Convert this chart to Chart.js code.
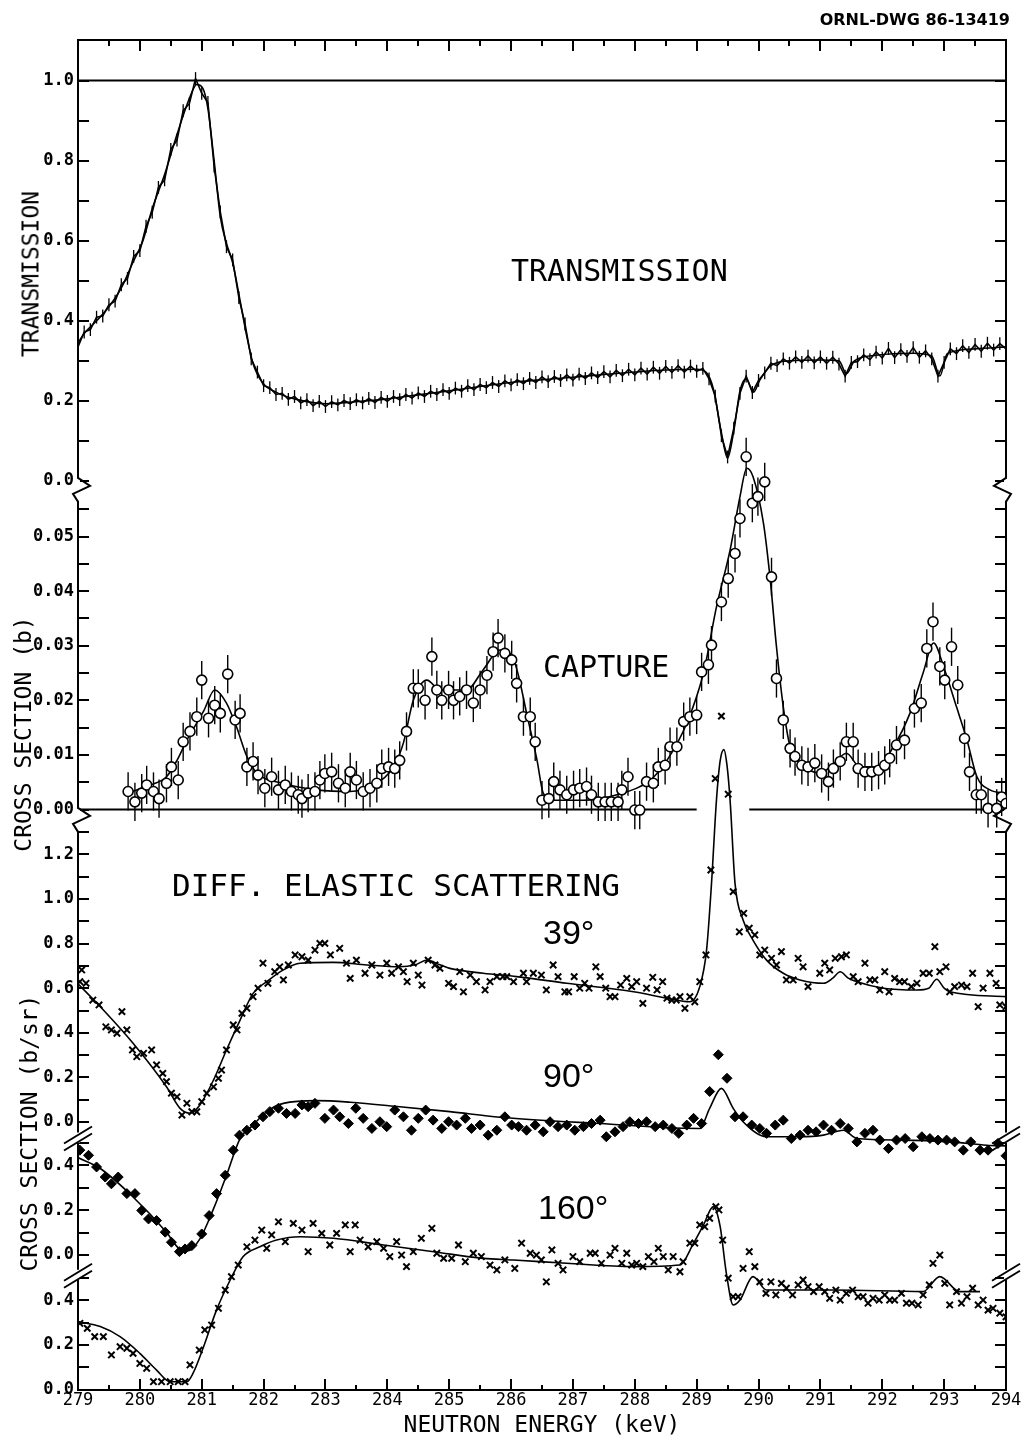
<!DOCTYPE html>
<html><head><meta charset="utf-8">
<script src="https://cdn.jsdelivr.net/npm/chart.js@4.4.1/dist/chart.umd.min.js"></script>
<style>
html,body{margin:0;padding:0;background:#fff;}
#wrap{position:relative;width:1022px;height:1438px;overflow:hidden;background:#fff;}
#c{position:absolute;left:0;top:0;}
.t{position:absolute;white-space:nowrap;line-height:1;color:#000;}
.plot{font-family:'DejaVu Sans Mono',monospace;transform:translateY(-50%);}
.deg{font-family:'Liberation Sans',Arial,sans-serif;font-size:34px;transform:translateY(-50%);}
.rot{font-family:'DejaVu Sans Mono',monospace;font-size:23px;transform:translate(-50%,-50%) rotate(-90deg);}
</style></head><body>
<div id="wrap">
<canvas id="c" width="1022" height="1438"></canvas>
<div class="t" style="right:12px;top:20px;transform:translateY(-50%);font-family:'DejaVu Sans',sans-serif;font-weight:bold;font-size:16px;">ORNL-DWG 86-13419</div>
<div class="t plot" style="left:511px;top:271px;font-size:30px;">TRANSMISSION</div>
<div class="t plot" style="left:543px;top:667px;font-size:30px;">CAPTURE</div>
<div class="t plot" style="left:172px;top:885px;font-size:31px;">DIFF. ELASTIC SCATTERING</div>
<div class="t deg" style="left:543px;top:932px;">39°</div>
<div class="t deg" style="left:543px;top:1075px;">90°</div>
<div class="t deg" style="left:538px;top:1207px;">160°</div>
<div class="t rot" style="left:31px;top:274px;">TRANSMISSION</div>
<div class="t rot" style="left:23px;top:734px;">CROSS SECTION (b)</div>
<div class="t rot" style="left:29px;top:1133px;">CROSS SECTION (b/sr)</div>
</div>
<script>
// ---------------- DATA ----------------
const xTickValues = [279,280,281,282,283,284,285,286,287,288,289,290,291,292,293,294];
const xTickLabels = ['279','280','281','282','283','284','285','286','287','288','289','290','291','292','293','294'];
const xMinorTickValues = [279.5,280.5,281.5,282.5,283.5,284.5,285.5,286.5,287.5,288.5,289.5,290.5,291.5,292.5,293.5];

const transTickValues = [0,0.1,0.2,0.3,0.4,0.5,0.6,0.7,0.8,0.9,1.0];
const transTickLabels = ['0.0','','0.2','','0.4','','0.6','','0.8','','1.0'];
const captureTickValues = [0,0.005,0.01,0.015,0.02,0.025,0.03,0.035,0.04,0.045,0.05,0.055];
const captureTickLabels = ['0.00','','0.01','','0.02','','0.03','','0.04','','0.05',''];
const des39TickValues = [0,0.1,0.2,0.3,0.4,0.5,0.6,0.7,0.8,0.9,1.0,1.1,1.2,1.3];
const des39TickLabels = ['0.0','','0.2','','0.4','','0.6','','0.8','','1.0','','1.2',''];
const des90TickValues = [0,0.1,0.2,0.3,0.4,0.5];
const des90TickLabels = ['0.0','','0.2','','0.4',''];
const des160TickValues = [0,0.1,0.2,0.3,0.4,0.5];
const des160TickLabels = ['0.0','','0.2','','0.4',''];

// Transmission: fitted curve
const transFit = [[279.0,0.345],[279.1,0.368],[279.3,0.400],[279.5,0.435],[279.7,0.482],[279.9,0.550],[280.05,0.600],[280.2,0.680],[280.4,0.765],[280.6,0.865],[280.8,0.955],[280.92,0.990],[281.02,0.980],[281.1,0.930],[281.2,0.800],[281.3,0.660],[281.4,0.593],[281.5,0.545],[281.62,0.450],[281.73,0.360],[281.83,0.293],[281.99,0.244],[282.2,0.222],[282.5,0.205],[283.0,0.193],[283.5,0.198],[284.0,0.205],[284.5,0.215],[285.0,0.225],[285.5,0.236],[286.0,0.246],[286.5,0.253],[287.0,0.259],[287.5,0.266],[288.0,0.272],[288.5,0.277],[289.0,0.279],[289.15,0.272],[289.27,0.230],[289.4,0.120],[289.5,0.057],[289.6,0.125],[289.7,0.225],[289.8,0.255],[289.92,0.222],[290.02,0.252],[290.2,0.288],[290.5,0.300],[291.0,0.302],[291.3,0.300],[291.42,0.268],[291.55,0.300],[291.9,0.314],[292.5,0.319],[292.8,0.312],[292.93,0.262],[293.05,0.318],[293.5,0.330],[294.0,0.335]];
// Transmission: measured points
const transMeasured = [[279.0,0.335],[279.1,0.372],[279.2,0.378],[279.3,0.409],[279.4,0.412],[279.5,0.440],[279.6,0.449],[279.7,0.490],[279.8,0.506],[279.9,0.561],[280.0,0.575],[280.1,0.636],[280.2,0.671],[280.3,0.733],[280.4,0.752],[280.5,0.828],[280.6,0.851],[280.7,0.925],[280.8,0.942],[280.9,1.005],[281.0,0.968],[281.1,0.945],[281.2,0.786],[281.3,0.672],[281.4,0.585],[281.5,0.552],[281.6,0.458],[281.7,0.392],[281.8,0.305],[281.9,0.272],[282.0,0.238],[282.1,0.233],[282.2,0.216],[282.3,0.219],[282.4,0.204],[282.5,0.211],[282.6,0.195],[282.7,0.203],[282.8,0.188],[282.9,0.199],[283.0,0.186],[283.1,0.198],[283.2,0.190],[283.3,0.201],[283.4,0.193],[283.5,0.203],[283.6,0.195],[283.7,0.206],[283.8,0.196],[283.9,0.209],[284.0,0.199],[284.1,0.211],[284.2,0.203],[284.3,0.216],[284.4,0.207],[284.5,0.220],[284.6,0.211],[284.7,0.224],[284.8,0.216],[284.9,0.228],[285.0,0.219],[285.1,0.232],[285.2,0.224],[285.3,0.238],[285.4,0.228],[285.5,0.241],[285.6,0.233],[285.7,0.246],[285.8,0.236],[285.9,0.250],[286.0,0.240],[286.1,0.253],[286.2,0.243],[286.3,0.256],[286.4,0.246],[286.5,0.260],[286.6,0.248],[286.7,0.261],[286.8,0.251],[286.9,0.265],[287.0,0.252],[287.1,0.267],[287.2,0.256],[287.3,0.270],[287.4,0.258],[287.5,0.273],[287.6,0.260],[287.7,0.276],[287.8,0.263],[287.9,0.279],[288.0,0.265],[288.1,0.282],[288.2,0.267],[288.3,0.284],[288.4,0.269],[288.5,0.286],[288.6,0.271],[288.7,0.288],[288.8,0.272],[288.9,0.287],[289.0,0.274],[289.1,0.281],[289.2,0.255],[289.3,0.212],[289.4,0.113],[289.5,0.060],[289.6,0.132],[289.7,0.219],[289.8,0.262],[289.9,0.221],[290.0,0.251],[290.1,0.270],[290.2,0.294],[290.3,0.288],[290.4,0.305],[290.5,0.294],[290.6,0.310],[290.7,0.296],[290.8,0.312],[290.9,0.295],[291.0,0.310],[291.1,0.294],[291.2,0.309],[291.3,0.292],[291.4,0.262],[291.5,0.296],[291.6,0.298],[291.7,0.315],[291.8,0.303],[291.9,0.322],[292.0,0.307],[292.1,0.331],[292.2,0.308],[292.3,0.328],[292.4,0.311],[292.5,0.333],[292.6,0.309],[292.7,0.325],[292.8,0.305],[292.9,0.262],[293.0,0.296],[293.1,0.330],[293.2,0.318],[293.3,0.338],[293.4,0.321],[293.5,0.341],[293.6,0.324],[293.7,0.344],[293.8,0.327],[293.9,0.343],[294.0,0.330]];
const transUnity = [[279,1.0],[294,1.0]];
const transError = 0.016;

// Capture cross section (b)
const captureFit = [[279.81,0.0030],[280.0,0.0038],[280.2,0.0046],[280.43,0.0060],[280.6,0.0090],[280.76,0.0127],[281.03,0.0180],[281.21,0.0219],[281.4,0.0195],[281.56,0.0152],[281.73,0.0097],[281.89,0.0067],[282.31,0.0048],[282.86,0.0036],[283.4,0.0033],[283.77,0.0045],[284.1,0.0078],[284.26,0.0122],[284.42,0.0200],[284.64,0.0237],[284.85,0.0219],[285.28,0.0219],[285.55,0.0256],[285.82,0.0292],[286.03,0.0278],[286.12,0.0245],[286.25,0.0177],[286.42,0.0090],[286.52,0.0030],[286.68,0.0017],[287.17,0.0017],[287.71,0.0027],[288.25,0.0054],[288.52,0.0090],[288.84,0.0158],[289.11,0.0250],[289.32,0.0371],[289.54,0.0475],[289.70,0.0573],[289.81,0.0625],[289.91,0.0610],[290.08,0.0524],[290.19,0.0420],[290.29,0.0298],[290.40,0.0188],[290.51,0.0115],[290.67,0.0085],[291.0,0.0067],[291.2,0.0082],[291.42,0.0103],[291.64,0.0078],[291.91,0.0078],[292.18,0.0115],[292.45,0.0177],[292.66,0.0250],[292.83,0.0305],[292.99,0.0262],[293.2,0.0188],[293.37,0.0127],[293.53,0.0060],[293.74,0.0036],[294.0,0.0030]];
const captureMeasured = [[279.81,0.0033],[279.92,0.0014],[280.03,0.0030],[280.11,0.0045],[280.22,0.0033],[280.31,0.0020],[280.43,0.0048],[280.51,0.0078],[280.62,0.0054],[280.70,0.0124],[280.81,0.0143],[280.92,0.0170],[281.00,0.0237],[281.11,0.0167],[281.21,0.0191],[281.30,0.0176],[281.42,0.0248],[281.54,0.0164],[281.62,0.0176],[281.73,0.0078],[281.83,0.0088],[281.91,0.0063],[282.02,0.0039],[282.13,0.0060],[282.24,0.0036],[282.35,0.0045],[282.45,0.0033],[282.56,0.0027],[282.62,0.0020],[282.72,0.0030],[282.83,0.0033],[282.91,0.0054],[282.99,0.0066],[283.10,0.0069],[283.21,0.0048],[283.32,0.0039],[283.40,0.0069],[283.50,0.0054],[283.61,0.0033],[283.72,0.0039],[283.83,0.0048],[283.91,0.0075],[284.02,0.0078],[284.12,0.0075],[284.20,0.0090],[284.31,0.0143],[284.42,0.0222],[284.50,0.0222],[284.61,0.0200],[284.72,0.0280],[284.80,0.0219],[284.88,0.0200],[284.99,0.0219],[285.07,0.0200],[285.17,0.0207],[285.28,0.0219],[285.39,0.0195],[285.50,0.0219],[285.61,0.0246],[285.71,0.0289],[285.79,0.0314],[285.90,0.0286],[286.01,0.0274],[286.09,0.0231],[286.20,0.0170],[286.31,0.0170],[286.39,0.0124],[286.50,0.0017],[286.61,0.0020],[286.69,0.0051],[286.79,0.0036],[286.90,0.0027],[287.01,0.0036],[287.11,0.0039],[287.22,0.0042],[287.30,0.0027],[287.41,0.0014],[287.52,0.0014],[287.62,0.0014],[287.73,0.0014],[287.79,0.0036],[287.89,0.0060],[288.00,-0.0001],[288.08,-0.0001],[288.19,0.0051],[288.30,0.0048],[288.38,0.0078],[288.49,0.0081],[288.57,0.0115],[288.68,0.0115],[288.79,0.0161],[288.89,0.0170],[289.00,0.0173],[289.08,0.0252],[289.19,0.0265],[289.24,0.0301],[289.40,0.0380],[289.51,0.0423],[289.62,0.0469],[289.70,0.0533],[289.80,0.0646],[289.90,0.0561],[289.99,0.0573],[290.10,0.0600],[290.21,0.0426],[290.29,0.0240],[290.40,0.0164],[290.51,0.0112],[290.59,0.0097],[290.70,0.0081],[290.80,0.0078],[290.91,0.0085],[291.02,0.0066],[291.13,0.0051],[291.21,0.0075],[291.32,0.0088],[291.42,0.0124],[291.53,0.0124],[291.61,0.0075],[291.72,0.0069],[291.83,0.0069],[291.94,0.0072],[292.04,0.0081],[292.12,0.0094],[292.23,0.0118],[292.36,0.0127],[292.52,0.0185],[292.63,0.0195],[292.72,0.0295],[292.82,0.0344],[292.93,0.0262],[293.01,0.0237],[293.12,0.0298],[293.22,0.0228],[293.33,0.0130],[293.41,0.0069],[293.52,0.0027],[293.60,0.0027],[293.71,0.0002],[293.85,0.0002],[293.93,0.0023],[294.00,0.0011]];
const captureBaseline = [[279,0],[289.0,0],[289.4,null],[289.85,0],[294,0]];
const captureError = 0.0035;

// Differential elastic scattering, 39 deg (b/sr)
const des39Fit = [[279.0,0.620],[279.36,0.517],[279.89,0.353],[280.43,0.158],[280.65,0.061],[280.81,0.039],[280.97,0.076],[281.19,0.188],[281.4,0.323],[281.62,0.457],[281.83,0.577],[282.05,0.629],[282.32,0.682],[282.59,0.712],[283.13,0.716],[283.67,0.704],[284.2,0.696],[284.45,0.705],[284.64,0.726],[284.85,0.705],[285.01,0.689],[285.55,0.667],[286.09,0.652],[286.9,0.622],[287.98,0.584],[288.52,0.555],[288.89,0.539],[289.05,0.607],[289.16,0.771],[289.24,1.070],[289.32,1.444],[289.38,1.620],[289.44,1.670],[289.49,1.600],[289.54,1.444],[289.62,1.070],[289.75,0.906],[289.91,0.816],[290.13,0.726],[290.40,0.667],[290.67,0.637],[291.05,0.622],[291.2,0.645],[291.32,0.674],[291.45,0.645],[291.59,0.629],[292.02,0.600],[292.56,0.592],[292.75,0.600],[292.88,0.640],[293.0,0.600],[293.09,0.584],[294.0,0.562]];
const des39Measured = [[279.03,0.629],[279.06,0.682],[279.13,0.622],[279.24,0.547],[279.34,0.525],[279.45,0.427],[279.54,0.413],[279.63,0.398],[279.71,0.495],[279.79,0.413],[279.88,0.323],[279.95,0.293],[280.06,0.308],[280.19,0.323],[280.27,0.256],[280.37,0.218],[280.43,0.181],[280.51,0.129],[280.60,0.113],[280.68,0.031],[280.76,0.084],[280.84,0.046],[280.92,0.046],[281.00,0.091],[281.08,0.129],[281.19,0.158],[281.27,0.196],[281.32,0.233],[281.40,0.323],[281.51,0.435],[281.57,0.413],[281.65,0.487],[281.73,0.510],[281.83,0.562],[281.91,0.600],[281.99,0.712],[282.07,0.622],[282.18,0.674],[282.26,0.696],[282.32,0.637],[282.40,0.704],[282.51,0.749],[282.62,0.741],[282.72,0.726],[282.83,0.771],[282.91,0.801],[282.99,0.801],[283.08,0.749],[283.23,0.779],[283.34,0.712],[283.40,0.644],[283.50,0.726],[283.64,0.667],[283.75,0.704],[283.88,0.659],[283.99,0.712],[284.07,0.667],[284.18,0.696],[284.26,0.674],[284.32,0.629],[284.42,0.712],[284.50,0.659],[284.56,0.614],[284.66,0.726],[284.77,0.704],[284.85,0.689],[284.99,0.622],[285.07,0.607],[285.17,0.674],[285.23,0.584],[285.34,0.659],[285.44,0.629],[285.58,0.592],[285.66,0.629],[285.77,0.652],[285.87,0.652],[285.93,0.652],[286.04,0.629],[286.20,0.667],[286.25,0.629],[286.36,0.667],[286.49,0.659],[286.57,0.592],[286.68,0.704],[286.76,0.652],[286.87,0.584],[286.93,0.584],[287.02,0.652],[287.11,0.600],[287.19,0.622],[287.26,0.600],[287.37,0.696],[287.44,0.652],[287.53,0.600],[287.60,0.562],[287.68,0.562],[287.77,0.614],[287.87,0.644],[287.95,0.607],[288.03,0.629],[288.13,0.532],[288.19,0.600],[288.29,0.649],[288.36,0.592],[288.45,0.629],[288.52,0.555],[288.60,0.547],[288.67,0.547],[288.73,0.562],[288.81,0.510],[288.89,0.562],[288.97,0.539],[289.05,0.629],[289.15,0.749],[289.23,1.130],[289.30,1.540],[289.40,1.820],[289.51,1.470],[289.59,1.033],[289.69,0.853],[289.76,0.936],[289.85,0.869],[289.94,0.839],[290.02,0.749],[290.10,0.771],[290.21,0.734],[290.29,0.704],[290.37,0.764],[290.45,0.637],[290.56,0.637],[290.64,0.734],[290.72,0.696],[290.80,0.607],[290.99,0.667],[291.07,0.712],[291.15,0.682],[291.24,0.734],[291.34,0.741],[291.42,0.749],[291.53,0.652],[291.61,0.629],[291.72,0.712],[291.80,0.637],[291.88,0.637],[291.96,0.592],[292.04,0.674],[292.11,0.584],[292.20,0.644],[292.28,0.629],[292.36,0.629],[292.47,0.607],[292.56,0.622],[292.66,0.667],[292.76,0.667],[292.85,0.786],[292.93,0.674],[293.03,0.696],[293.09,0.584],[293.17,0.607],[293.28,0.614],[293.37,0.607],[293.46,0.667],[293.55,0.517],[293.63,0.600],[293.74,0.667],[293.84,0.622],[293.90,0.525],[294.00,0.517]];

// 90 deg
const des90Fit = [[279.0,0.435],[279.36,0.386],[279.89,0.259],[280.43,0.102],[280.65,0.025],[280.78,0.019],[280.97,0.072],[281.19,0.206],[281.40,0.356],[281.62,0.520],[281.83,0.580],[282.05,0.640],[282.32,0.677],[282.86,0.689],[283.40,0.682],[284.20,0.662],[285.01,0.640],[285.82,0.615],[286.9,0.595],[287.44,0.587],[288.52,0.568],[289.05,0.565],[289.21,0.655],[289.40,0.744],[289.59,0.655],[289.75,0.595],[290.13,0.528],[290.67,0.528],[291.05,0.535],[291.37,0.557],[291.59,0.520],[292.29,0.513],[293.09,0.505],[293.69,0.490],[294.0,0.487]];
const des90Measured = [[279.03,0.468],[279.17,0.445],[279.30,0.393],[279.44,0.348],[279.54,0.318],[279.65,0.348],[279.79,0.274],[279.92,0.274],[280.03,0.199],[280.14,0.161],[280.27,0.154],[280.41,0.102],[280.51,0.057],[280.64,0.015],[280.73,0.027],[280.84,0.042],[281.00,0.094],[281.12,0.176],[281.24,0.274],[281.38,0.356],[281.51,0.468],[281.61,0.535],[281.73,0.557],[281.86,0.580],[281.99,0.617],[282.10,0.640],[282.24,0.655],[282.37,0.632],[282.51,0.632],[282.62,0.670],[282.72,0.662],[282.83,0.677],[282.99,0.610],[283.13,0.647],[283.23,0.617],[283.37,0.587],[283.49,0.655],[283.61,0.610],[283.75,0.565],[283.88,0.595],[283.99,0.573],[284.12,0.647],[284.26,0.617],[284.39,0.557],[284.50,0.610],[284.62,0.647],[284.74,0.602],[284.88,0.565],[284.99,0.595],[285.12,0.580],[285.26,0.610],[285.36,0.565],[285.50,0.580],[285.63,0.535],[285.77,0.557],[285.90,0.617],[286.01,0.580],[286.12,0.573],[286.25,0.557],[286.39,0.580],[286.52,0.550],[286.63,0.595],[286.76,0.573],[286.90,0.580],[287.03,0.557],[287.17,0.573],[287.30,0.587],[287.44,0.602],[287.54,0.528],[287.68,0.550],[287.81,0.573],[287.92,0.595],[288.06,0.587],[288.19,0.595],[288.33,0.573],[288.46,0.580],[288.60,0.565],[288.71,0.543],[288.84,0.580],[288.95,0.610],[289.08,0.587],[289.21,0.730],[289.35,0.894],[289.49,0.789],[289.62,0.617],[289.75,0.617],[289.89,0.580],[290.02,0.565],[290.13,0.543],[290.27,0.580],[290.40,0.602],[290.53,0.520],[290.67,0.535],[290.80,0.557],[290.93,0.550],[291.05,0.580],[291.18,0.557],[291.32,0.587],[291.45,0.565],[291.59,0.505],[291.72,0.543],[291.85,0.557],[291.96,0.513],[292.10,0.475],[292.23,0.513],[292.37,0.520],[292.50,0.483],[292.64,0.528],[292.77,0.520],[292.90,0.513],[293.04,0.513],[293.17,0.505],[293.31,0.468],[293.43,0.505],[293.58,0.468],[293.71,0.468],[293.87,0.498],[294.00,0.443]];

// 160 deg
const des160Fit = [[279.0,0.305],[279.36,0.282],[279.68,0.237],[280.0,0.162],[280.27,0.087],[280.49,0.035],[280.76,0.035],[280.86,0.073],[281.03,0.192],[281.24,0.357],[281.46,0.491],[281.67,0.596],[281.94,0.640],[282.21,0.670],[282.59,0.685],[283.13,0.678],[283.94,0.648],[284.75,0.618],[285.55,0.588],[286.04,0.581],[286.90,0.566],[287.98,0.551],[288.73,0.558],[288.95,0.656],[289.11,0.738],[289.27,0.820],[289.38,0.730],[289.48,0.521],[289.59,0.379],[289.70,0.401],[289.91,0.506],[290.13,0.446],[290.40,0.446],[291.21,0.446],[292.66,0.439],[292.93,0.506],[293.25,0.439],[293.58,0.439]];
const des160Measured = [[279.03,0.297],[279.15,0.274],[279.27,0.237],[279.41,0.237],[279.54,0.155],[279.68,0.192],[279.79,0.185],[279.89,0.162],[280.00,0.117],[280.11,0.095],[280.22,0.035],[280.35,0.035],[280.49,0.035],[280.62,0.035],[280.73,0.035],[280.81,0.110],[280.96,0.177],[281.05,0.267],[281.16,0.289],[281.27,0.364],[281.38,0.446],[281.48,0.506],[281.59,0.558],[281.73,0.640],[281.86,0.670],[281.97,0.715],[282.05,0.633],[282.13,0.693],[282.24,0.752],[282.35,0.663],[282.48,0.745],[282.62,0.715],[282.72,0.618],[282.80,0.745],[282.94,0.700],[283.07,0.648],[283.18,0.700],[283.32,0.738],[283.40,0.618],[283.48,0.738],[283.56,0.670],[283.69,0.640],[283.83,0.663],[283.94,0.633],[284.04,0.596],[284.15,0.663],[284.23,0.603],[284.31,0.551],[284.42,0.618],[284.55,0.678],[284.72,0.723],[284.80,0.611],[284.91,0.588],[285.04,0.588],[285.15,0.648],[285.26,0.573],[285.39,0.611],[285.52,0.596],[285.66,0.558],[285.77,0.536],[285.90,0.581],[286.06,0.543],[286.17,0.656],[286.31,0.611],[286.41,0.603],[286.49,0.581],[286.57,0.483],[286.66,0.626],[286.76,0.566],[286.84,0.536],[287.00,0.596],[287.11,0.573],[287.28,0.611],[287.36,0.611],[287.46,0.566],[287.60,0.603],[287.68,0.633],[287.79,0.566],[287.87,0.611],[287.95,0.558],[288.03,0.566],[288.13,0.551],[288.22,0.596],[288.31,0.573],[288.38,0.633],[288.46,0.596],[288.54,0.536],[288.62,0.596],[288.73,0.528],[288.78,0.573],[288.89,0.656],[288.97,0.656],[289.05,0.738],[289.13,0.730],[289.21,0.768],[289.31,0.820],[289.36,0.805],[289.42,0.670],[289.51,0.499],[289.59,0.416],[289.67,0.416],[289.75,0.543],[289.85,0.618],[289.94,0.551],[290.02,0.483],[290.12,0.431],[290.20,0.483],[290.28,0.424],[290.37,0.476],[290.45,0.454],[290.55,0.424],[290.64,0.469],[290.72,0.491],[290.80,0.461],[290.89,0.439],[290.98,0.461],[291.07,0.439],[291.15,0.409],[291.25,0.446],[291.32,0.401],[291.42,0.431],[291.52,0.446],[291.61,0.416],[291.69,0.416],[291.77,0.387],[291.85,0.409],[291.95,0.401],[292.04,0.424],[292.12,0.401],[292.20,0.401],[292.31,0.431],[292.39,0.387],[292.48,0.387],[292.58,0.379],[292.66,0.424],[292.76,0.469],[292.82,0.566],[292.93,0.603],[293.01,0.476],[293.09,0.379],[293.20,0.439],[293.28,0.387],[293.37,0.416],[293.46,0.454],[293.55,0.379],[293.63,0.401],[293.71,0.356],[293.79,0.364],[293.90,0.342],[294.00,0.326]];

// ---------------- LAYOUT ----------------
const AREA = {left: 78, right: 1006, top: 40, bottom: 1390, width: 1022, height: 1438};
// pixel row of the zero value and pixels per unit of each stacked panel
function yRange(zeroPx, pxPerUnit) {
  return {min: (zeroPx - AREA.bottom) / pxPerUnit, max: (zeroPx - AREA.top) / pxPerUnit};
}
const rT = yRange(481, 400.5);
const rC = yRange(809.5, 5460);
const r39 = yRange(1122, 223);
const r90 = yRange(1255, 224);
const r160 = yRange(1389.5, 223);

const MONO = "'DejaVu Sans Mono', monospace";
const toXY = arr => arr.map(p => ({x: p[0], y: p[1]}));

function noPad(s) { s.paddingLeft = 0; s.paddingRight = 0; s.paddingTop = 0; s.paddingBottom = 0; }

function yAxis(position, range, tickVals, tickLabels, withBorder) {
  return {
    type: 'linear', position, min: range.min, max: range.max,
    afterBuildTicks: s => { s.ticks = tickVals.map(v => ({value: v})); },
    afterFit: s => { s.width = 0; noPad(s); },
    grid: {display: true, drawOnChartArea: false, drawTicks: true, tickLength: -11, tickWidth: 2, lineWidth: 2, color: '#000'},
    border: {display: !!withBorder, color: '#000', width: 2},
    ticks: {display: position === 'left', autoSkip: false, padding: 15, color: '#000',
            font: {family: MONO, size: 17, weight: 'bold'},
            callback: (v, i) => tickLabels[i] || ''}
  };
}
function xAxis(position, tickVals, tickLabels, tickLen, weight, height, showLabels, withBorder, title) {
  const ax = {
    type: 'linear', position, min: 279, max: 294, weight,
    afterBuildTicks: s => { s.ticks = tickVals.map(v => ({value: v})); },
    afterFit: s => { s.height = height; noPad(s); },
    grid: {display: true, drawOnChartArea: false, drawTicks: true, tickLength: tickLen, tickWidth: 2, lineWidth: 2, color: '#000'},
    border: {display: !!withBorder, color: '#000', width: 2},
    ticks: {display: showLabels, autoSkip: false, maxRotation: 0, minRotation: 0, padding: 11, color: '#000',
            font: {family: MONO, size: 17},
            callback: (v, i) => (tickLabels ? (tickLabels[i] || '') : '')}
  };
  if (title) ax.title = {display: true, text: title, color: '#000', padding: 0, font: {family: MONO, size: 23, lineHeight: 1}};
  return ax;
}

function lineDS(data, yAxisID, width) {
  return {type: 'scatter', data: toXY(data), yAxisID, xAxisID: 'x', showLine: true, borderColor: '#000',
          borderWidth: width, pointRadius: 0, pointHoverRadius: 0, fill: false, cubicInterpolationMode: 'monotone'};
}
function markerDS(data, yAxisID, style, radius, bw, bg) {
  return {type: 'scatter', data: toXY(data), yAxisID, xAxisID: 'x', showLine: false, pointStyle: style,
          pointRadius: radius, pointHoverRadius: radius, pointBorderWidth: bw, pointBorderColor: '#000',
          pointBackgroundColor: bg, borderColor: '#000', backgroundColor: bg};
}

const capMarkers = markerDS(captureMeasured, 'yC', 'circle', 5, 1.6, '#fff');
capMarkers.errorBar = {value: captureError, width: 1.4};
const transData = lineDS(transMeasured, 'yT', 1.6);
transData.cubicInterpolationMode = 'default';
transData.tension = 0;
transData.errorBar = {value: transError, width: 1.3};
const baseline = lineDS(captureBaseline, 'yC', 2);
baseline.spanGaps = false;

const LEFT_LABEL_AXES = ['yT', 'yC', 'y39', 'y90', 'y160'];
// let the zero-width left axes own the margin so their tick labels are not clipped
const labelMarginPlugin = {
  id: 'labelMargin',
  afterLayout(chart) {
    LEFT_LABEL_AXES.forEach(id => {
      const s = chart.scales[id];
      s.left = 0; s.width = s.right;
    });
  }
};

const errorBarPlugin = {
  id: 'errorBars',
  beforeDatasetsDraw(chart) {
    const ctx = chart.ctx, a = chart.chartArea;
    ctx.save();
    ctx.beginPath(); ctx.rect(a.left, a.top, a.right - a.left, a.bottom - a.top); ctx.clip();
    chart.data.datasets.forEach((ds, i) => {
      if (!ds.errorBar) return;
      const meta = chart.getDatasetMeta(i);
      const ys = chart.scales[ds.yAxisID];
      ctx.strokeStyle = '#000'; ctx.lineWidth = ds.errorBar.width;
      meta.data.forEach((pt, j) => {
        const v = ds.data[j].y;
        if (v === null || v === undefined) return;
        ctx.beginPath();
        ctx.moveTo(pt.x, ys.getPixelForValue(v + ds.errorBar.value));
        ctx.lineTo(pt.x, ys.getPixelForValue(v - ds.errorBar.value));
        ctx.stroke();
      });
    });
    ctx.restore();
  }
};

// axis-break symbols on the frame: [axis id, value, kind]
const axisBreaks = [['yT', -0.022, 'zig'], ['yC', -0.0019, 'zig'], ['y90', 0.52, 'slash'], ['y160', 0.51, 'slash']];
const breakPlugin = {
  id: 'axisBreaks',
  afterDraw(chart) {
    const ctx = chart.ctx, a = chart.chartArea;
    ctx.save();
    ctx.lineWidth = 2; ctx.strokeStyle = '#000'; ctx.lineJoin = 'miter';
    axisBreaks.forEach(([id, val, kind]) => {
      const yc = chart.scales[id].getPixelForValue(val);
      [a.left, a.right].forEach((x, side) => {
        const dir = side === 0 ? 1 : -1;
        ctx.fillStyle = '#fff';
        if (kind === 'zig') {
          ctx.fillRect(x - 2, yc - 11, 4, 22);
          ctx.beginPath();
          ctx.moveTo(x, yc - 12);
          ctx.lineTo(x + dir * 12, yc - 4);
          ctx.lineTo(x - dir * 5, yc + 4);
          ctx.lineTo(x, yc + 12);
          ctx.stroke();
        } else {
          ctx.fillRect(x - 2, yc - 6, 4, 10);
          ctx.beginPath();
          ctx.moveTo(x - 14, yc + 5); ctx.lineTo(x + 14, yc - 12);
          ctx.moveTo(x - 14, yc + 12); ctx.lineTo(x + 14, yc - 5);
          ctx.stroke();
        }
      });
    });
    ctx.restore();
  }
};

new Chart(document.getElementById('c'), {
  type: 'scatter',
  data: {datasets: [
    capMarkers,
    markerDS(des39Measured, 'y39', 'crossRot', 4.5, 2, '#000'),
    markerDS(des90Measured, 'y90', 'rectRot', 5, 1, '#000'),
    markerDS(des160Measured, 'y160', 'crossRot', 4.5, 2, '#000'),
    lineDS(transFit, 'yT', 1.6),
    transData,
    lineDS(transUnity, 'yT', 2.2),
    lineDS(captureFit, 'yC', 1.6),
    baseline,
    lineDS(des39Fit, 'y39', 1.6),
    lineDS(des90Fit, 'y90', 1.6),
    lineDS(des160Fit, 'y160', 1.6)
  ]},
  options: {
    responsive: false, animation: false, events: [], devicePixelRatio: 1,
    layout: {padding: {left: AREA.left, right: AREA.width - AREA.right, top: AREA.top, bottom: 0}},
    plugins: {legend: {display: false}, tooltip: {enabled: false}, title: {display: false}},
    scales: {
      x: xAxis('bottom', xTickValues, xTickLabels, -11, 1, AREA.height - AREA.bottom, true, true, 'NEUTRON ENERGY (keV)'),
      xMinor: xAxis('bottom', xMinorTickValues, null, -5, 0, 0, false, false),
      xTop: xAxis('top', xTickValues, null, -11, 1, 0, false, true),
      xTopMinor: xAxis('top', xMinorTickValues, null, -6, 0, 0, false, false),
      yT: yAxis('left', rT, transTickValues, transTickLabels, true),
      yC: yAxis('left', rC, captureTickValues, captureTickLabels, false),
      y39: yAxis('left', r39, des39TickValues, des39TickLabels, false),
      y90: yAxis('left', r90, des90TickValues, des90TickLabels, false),
      y160: yAxis('left', r160, des160TickValues, des160TickLabels, false),
      yTR: yAxis('right', rT, transTickValues, [], true),
      yCR: yAxis('right', rC, captureTickValues, [], false),
      y39R: yAxis('right', r39, des39TickValues, [], false),
      y90R: yAxis('right', r90, des90TickValues, [], false),
      y160R: yAxis('right', r160, des160TickValues, [], false)
    }
  },
  plugins: [labelMarginPlugin, errorBarPlugin, breakPlugin]
});
</script>
</body></html>
